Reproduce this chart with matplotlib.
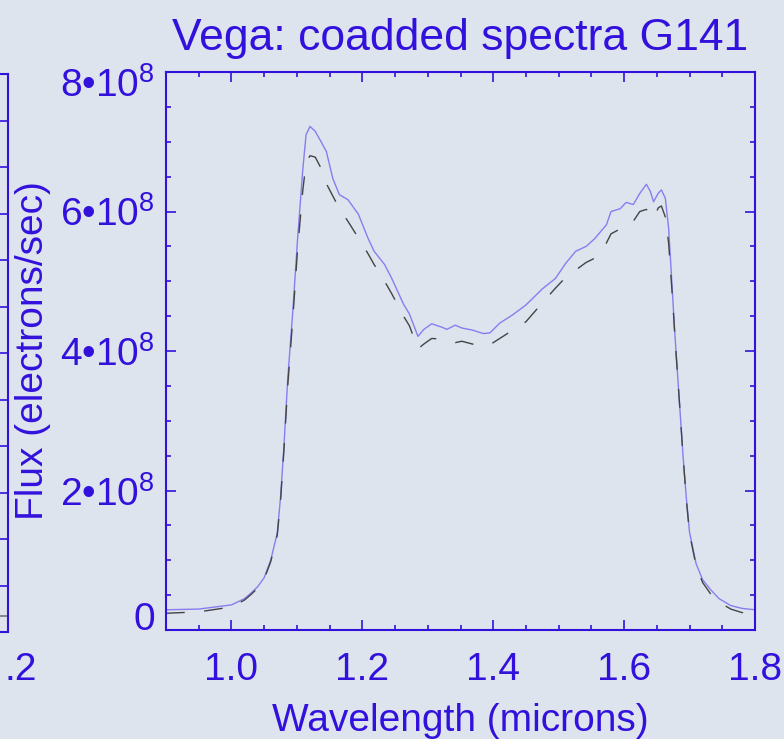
import numpy as np
import matplotlib
matplotlib.use('Agg')
import matplotlib.pyplot as plt
import matplotlib.transforms as mtransforms
from matplotlib import font_manager as fm
from matplotlib.ticker import MultipleLocator

# wavelength grid (microns) and flux (units of 1e8 electrons/sec)
wavelength = [0.90, 0.95, 1.00, 1.02, 1.03, 1.04, 1.05, 1.06, 1.07, 1.075,
              1.08, 1.086, 1.094, 1.101, 1.109, 1.114, 1.12, 1.128, 1.137, 1.145,
              1.155, 1.165, 1.178, 1.194, 1.209, 1.218, 1.234, 1.245, 1.263, 1.272,
              1.285, 1.294, 1.306, 1.322, 1.329, 1.342, 1.352, 1.368, 1.385, 1.395,
              1.41, 1.43, 1.45, 1.475, 1.495, 1.511, 1.526, 1.542, 1.555, 1.573,
              1.58, 1.594, 1.603, 1.614, 1.624, 1.634, 1.64, 1.645, 1.652, 1.657,
              1.663, 1.668, 1.671, 1.674, 1.677, 1.68, 1.685, 1.69, 1.695, 1.70,
              1.71, 1.72, 1.732, 1.745, 1.763, 1.78, 1.80]

flux_solid = [0.29, 0.30, 0.36, 0.45, 0.53, 0.62, 0.75, 1.00, 1.39, 1.90,
              2.60, 3.60, 4.60, 5.60, 6.60, 7.10, 7.22, 7.15, 7.00, 6.86,
              6.47, 6.24, 6.17, 5.96, 5.61, 5.43, 5.24, 5.04, 4.67, 4.53,
              4.21, 4.31, 4.39, 4.34, 4.31, 4.37, 4.33, 4.30, 4.25, 4.26,
              4.40, 4.52, 4.66, 4.89, 5.04, 5.26, 5.43, 5.50, 5.61, 5.81,
              6.00, 6.04, 6.13, 6.10, 6.26, 6.39, 6.29, 6.14, 6.26, 6.31,
              6.19, 5.76, 5.29, 4.81, 4.33, 3.90, 3.20, 2.50, 1.90, 1.40,
              0.95, 0.72, 0.58, 0.45, 0.35, 0.31, 0.29]

flux_dashed = [0.24, 0.26, 0.33, 0.43, 0.51, 0.60, 0.73, 0.98, 1.36, 1.85,
               2.55, 3.50, 4.50, 5.45, 6.30, 6.70, 6.80, 6.78, 6.62, 6.40,
               6.22, 6.04, 5.86, 5.62, 5.39, 5.24, 5.00, 4.82, 4.50, 4.36,
               4.03, 4.10, 4.18, 4.17, 4.15, 4.12, 4.14, 4.10, 4.08, 4.09,
               4.18, 4.30, 4.42, 4.69, 4.90, 5.06, 5.16, 5.27, 5.33, 5.55,
               5.68, 5.75, 5.84, 5.86, 6.00, 6.03, 5.98, 5.90, 6.05, 6.08,
               5.92, 5.55, 5.15, 4.75, 4.30, 3.88, 3.20, 2.50, 1.88, 1.38,
               0.92, 0.68, 0.52, 0.40, 0.30, 0.25, 0.24]

# tail of the neighbouring panel (cut off at the left edge)
left_wl = [1.15, 1.2]
left_flux = [0.34, 0.34]

ytick_vals = [0, 2, 4, 6, 8]
ytick_labels = ['0', '2\u202210$^8$', '4\u202210$^8$', '6\u202210$^8$', '8\u202210$^8$']
xtick_vals = [1.0, 1.2, 1.4, 1.6, 1.8]

blue = '#3311dd'
bg = '#dde4ee'

installed = {f.name for f in fm.fontManager.ttflist}
if 'Liberation Sans Narrow' in installed:
    fam = 'Liberation Sans Narrow'
    tick_fs, title_fs, label_fs = 30, 38, 30
else:
    fam = 'Liberation Sans'
    tick_fs, title_fs, label_fs = 28, 32, 28

plt.rcParams['font.family'] = [fam, 'DejaVu Sans']
plt.rcParams['mathtext.fontset'] = 'custom'
plt.rcParams['mathtext.rm'] = fam
plt.rcParams['mathtext.it'] = fam
plt.rcParams['mathtext.bf'] = fam

fig = plt.figure(figsize=(7.84, 7.39), dpi=100, facecolor=bg)

# partial neighbouring panel on the left
axl = fig.add_axes([-0.5, 107 / 739, 0.5 + 7.5 / 784, 558 / 739])
axl.set_facecolor(bg)
axl.set_xlim(0, 1.2)
axl.set_ylim(0, 12)
axl.plot(left_wl, left_flux, color='#777777', lw=1.2)
for s in axl.spines.values():
    s.set_color(blue)
    s.set_linewidth(1.5)
axl.yaxis.set_major_locator(MultipleLocator(1))
axl.tick_params(axis='y', which='both', right=True, left=False, labelleft=False,
                direction='in', length=7, width=1.2, color=blue)
axl.set_xticks([])
fig.text(4 / 784, 1 - 670 / 739, '.2', color=blue, fontsize=tick_fs,
         ha='left', va='center')

ax = fig.add_axes([166 / 784, 109 / 739, 589 / 784, 558 / 739])
ax.set_facecolor(bg)
ax.plot(wavelength, flux_solid, color='#8a7cf0', lw=1.0)
ax.plot(wavelength, flux_dashed, color='#444444', lw=1.0, dashes=(13.5, 14))

ax.set_xlim(0.9, 1.8)
ax.set_ylim(0, 8)
ax.set_xticks(xtick_vals)
ax.set_xticklabels(['%.1f' % v for v in xtick_vals])
ax.set_yticks(ytick_vals)
ax.set_yticklabels(ytick_labels)
ax.xaxis.set_minor_locator(MultipleLocator(0.05))
ax.yaxis.set_minor_locator(MultipleLocator(0.5))
ax.tick_params(which='both', direction='in', top=True, right=True, color=blue, width=1.2)
ax.tick_params(which='major', length=7.5)
ax.tick_params(which='minor', length=3.6)
ax.tick_params(axis='x', which='major', pad=16, labelsize=tick_fs, labelcolor=blue)
ax.tick_params(axis='y', which='major', pad=8, labelsize=tick_fs, labelcolor=blue)
for s in ax.spines.values():
    s.set_color(blue)
    s.set_linewidth(1.5)

# end labels sit inside the axis range, as in the original
ylabs = ax.get_yticklabels()
ylabs[0].set_transform(ylabs[0].get_transform() +
                       mtransforms.ScaledTranslation(0, 14 / 100, fig.dpi_scale_trans))
ylabs[-1].set_transform(ylabs[-1].get_transform() +
                        mtransforms.ScaledTranslation(0, -10 / 100, fig.dpi_scale_trans))

ax.set_title('Vega: coadded spectra G141', color=blue, fontsize=title_fs, pad=16)
ax.set_xlabel('Wavelength (microns)', color=blue, fontsize=label_fs)
ax.xaxis.set_label_coords(0.5, -0.131)
ax.set_ylabel('Flux (electrons/sec)', color=blue, fontsize=label_fs)
ax.yaxis.set_label_coords(-0.195, 0.5)

fig.savefig('out.png', dpi=100, facecolor=bg)
